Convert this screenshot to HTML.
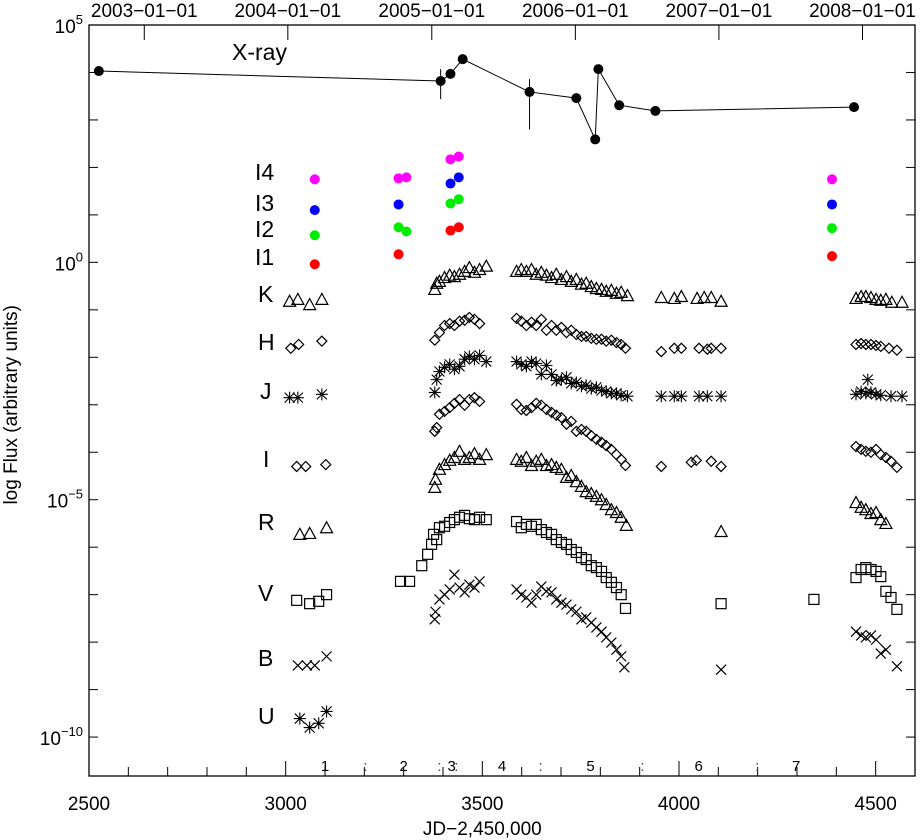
<!DOCTYPE html>
<html><head><meta charset="utf-8"><style>
html,body{margin:0;padding:0;background:#fff;}
svg{display:block;font-family:"Liberation Sans",sans-serif;}
</style></head><body>
<svg id="chart" width="922" height="840" viewBox="0 0 922 840" xmlns="http://www.w3.org/2000/svg">
<g id="axes"></g>
<g id="marks"></g>
<g id="labels"></g>
</svg>
<script>
// ---- data (JD-2450000, log10 flux) ----
const xrayJD   = [2525,3394,3419,3450,3620,3739,3787,3795,3848,3940,4445];
const xrayLog  = [4.03,3.82,3.97,4.28,3.59,3.46,2.59,4.07,3.31,3.19,3.27];
const xrayErrJD = [3394,3620];
const xrayErrLo = [3.44,2.80];
const xrayErrHi = [4.07,3.86];

const irJD  = [3074,3287,3307,3419,3440,4389];
const i4Log = [1.75,1.77,1.79,2.17,2.23,1.75];
const i3JD  = [3074,3287,3419,3440,4389];
const i3Log = [1.10,1.22,1.66,1.79,1.22];
const i2JD  = [3074,3287,3307,3419,3440,4389];
const i2Log = [0.57,0.74,0.65,1.24,1.33,0.72];
const i1JD  = [3074,3287,3419,3440,4389];
const i1Log = [-0.04,0.17,0.67,0.74,0.13];

const kJD  = [3010,3031,3061,3092,3379,3384,3391,3404,3417,3429,3442,3455,3467,3480,3493,3510,3587,3599,3612,3625,3637,3650,3663,3676,3688,3701,3714,3726,3739,3752,3764,3777,3790,3803,3815,3828,3841,3853,3869,3955,3988,4006,4046,4064,4082,4107,4450,4463,4475,4488,4501,4513,4526,4541,4567];
const kLog = [-0.82,-0.78,-0.89,-0.78,-0.57,-0.44,-0.40,-0.32,-0.27,-0.30,-0.25,-0.19,-0.11,-0.21,-0.15,-0.08,-0.19,-0.15,-0.19,-0.15,-0.25,-0.21,-0.27,-0.32,-0.25,-0.36,-0.30,-0.40,-0.36,-0.46,-0.44,-0.51,-0.55,-0.57,-0.61,-0.59,-0.65,-0.63,-0.70,-0.74,-0.76,-0.72,-0.76,-0.74,-0.74,-0.82,-0.76,-0.72,-0.72,-0.74,-0.78,-0.80,-0.78,-0.84,-0.84];

const hJD  = [3013,3033,3092,3379,3391,3404,3417,3429,3442,3455,3467,3480,3493,3587,3599,3612,3625,3637,3650,3663,3676,3688,3701,3714,3726,3739,3752,3764,3777,3790,3803,3815,3828,3841,3853,3864,3955,3988,4006,4051,4072,4082,4107,4450,4463,4475,4488,4501,4513,4534,4554];
const hLog = [-1.81,-1.73,-1.66,-1.64,-1.48,-1.33,-1.29,-1.33,-1.24,-1.22,-1.16,-1.20,-1.29,-1.18,-1.24,-1.33,-1.26,-1.33,-1.20,-1.43,-1.33,-1.43,-1.37,-1.48,-1.43,-1.52,-1.56,-1.56,-1.60,-1.62,-1.62,-1.66,-1.64,-1.69,-1.73,-1.81,-1.88,-1.81,-1.81,-1.81,-1.83,-1.81,-1.81,-1.73,-1.71,-1.73,-1.73,-1.75,-1.77,-1.81,-1.85];

const jJD  = [3010,3031,3092,3379,3384,3391,3404,3417,3429,3442,3455,3467,3480,3493,3510,3587,3599,3612,3625,3637,3650,3663,3676,3688,3701,3714,3726,3739,3752,3764,3777,3790,3803,3815,3828,3841,3853,3869,3955,3988,4006,4051,4072,4107,4450,4463,4475,4480,4488,4501,4513,4539,4567];
const jLog = [-2.85,-2.85,-2.78,-2.74,-2.47,-2.30,-2.21,-2.15,-2.25,-2.19,-2.04,-1.98,-2.04,-1.96,-2.09,-2.09,-2.15,-2.19,-2.09,-2.13,-2.36,-2.17,-2.36,-2.49,-2.47,-2.42,-2.55,-2.53,-2.61,-2.59,-2.66,-2.63,-2.70,-2.72,-2.76,-2.76,-2.80,-2.82,-2.82,-2.82,-2.82,-2.82,-2.82,-2.82,-2.78,-2.72,-2.76,-2.47,-2.74,-2.78,-2.80,-2.82,-2.82];

const iJD  = [3028,3051,3102,3379,3384,3391,3404,3417,3429,3442,3455,3467,3480,3493,3587,3599,3612,3625,3637,3650,3663,3676,3688,3701,3714,3726,3739,3752,3764,3777,3790,3803,3815,3828,3841,3853,3864,3955,4031,4044,4082,4107,4450,4463,4475,4488,4501,4513,4526,4539,4554];
const iLog = [-4.30,-4.30,-4.26,-3.56,-3.48,-3.20,-3.14,-3.06,-2.97,-2.89,-3.01,-2.89,-2.85,-2.93,-2.99,-3.10,-3.12,-3.06,-2.97,-3.01,-3.10,-3.16,-3.22,-3.27,-3.41,-3.35,-3.56,-3.52,-3.56,-3.65,-3.73,-3.79,-3.86,-3.94,-4.05,-4.15,-4.28,-4.30,-4.21,-4.17,-4.19,-4.30,-3.88,-3.94,-3.98,-4.00,-3.94,-4.05,-4.11,-4.19,-4.32];

const rJD  = [3036,3061,3104,3379,3381,3391,3404,3417,3429,3442,3455,3467,3480,3493,3510,3587,3599,3612,3625,3637,3650,3663,3676,3688,3701,3714,3726,3739,3752,3764,3777,3790,3803,3815,3828,3841,3853,3866,4107,4450,4463,4475,4488,4501,4513,4526];
const rLog = [-5.73,-5.71,-5.59,-4.74,-4.57,-4.36,-4.26,-4.17,-4.11,-3.98,-4.15,-4.11,-4.03,-4.15,-4.05,-4.15,-4.19,-4.11,-4.28,-4.19,-4.15,-4.28,-4.26,-4.32,-4.36,-4.53,-4.49,-4.62,-4.72,-4.83,-4.87,-4.93,-5.00,-5.10,-5.21,-5.27,-5.37,-5.54,-5.67,-5.06,-5.16,-5.21,-5.29,-5.27,-5.42,-5.50];

const vJD  = [3028,3061,3084,3104,3292,3315,3346,3361,3371,3376,3384,3391,3404,3417,3429,3442,3455,3467,3480,3493,3510,3587,3599,3612,3625,3637,3650,3663,3676,3688,3701,3714,3726,3739,3752,3764,3777,3790,3803,3815,3828,3841,3853,3864,4107,4343,4450,4463,4475,4488,4501,4513,4526,4539,4554];
const vLog = [-7.12,-7.19,-7.14,-7.00,-6.72,-6.72,-6.39,-6.15,-5.94,-5.73,-5.84,-5.59,-5.56,-5.48,-5.42,-5.37,-5.33,-5.40,-5.42,-5.37,-5.42,-5.46,-5.59,-5.52,-5.56,-5.52,-5.63,-5.69,-5.73,-5.84,-5.90,-5.94,-6.05,-6.11,-6.22,-6.26,-6.39,-6.43,-6.51,-6.64,-6.74,-6.85,-7.00,-7.29,-7.19,-7.10,-6.64,-6.47,-6.43,-6.47,-6.51,-6.62,-6.93,-7.06,-7.31];

const bJD  = [3031,3054,3074,3104,3379,3381,3391,3404,3417,3429,3442,3455,3467,3480,3493,3587,3599,3612,3625,3637,3650,3663,3676,3688,3701,3714,3726,3739,3752,3764,3777,3790,3803,3815,3828,3841,3853,3861,4107,4450,4463,4475,4488,4501,4513,4526,4554];
const bLog = [-8.49,-8.49,-8.49,-8.30,-7.52,-7.36,-7.10,-7.00,-6.89,-6.58,-6.85,-6.95,-6.79,-6.85,-6.72,-6.89,-7.00,-7.06,-7.17,-7.00,-6.83,-6.93,-6.95,-7.10,-7.17,-7.21,-7.31,-7.36,-7.52,-7.48,-7.59,-7.69,-7.78,-7.90,-8.01,-8.16,-8.30,-8.53,-8.58,-7.78,-7.86,-7.90,-7.86,-7.95,-8.24,-8.16,-8.51];

const uJD  = [3036,3061,3084,3104];
const uLog = [-9.61,-9.80,-9.71,-9.46];

const xTicks = [2500,3000,3500,4000,4500];
const yTickExp = [5,0,-5,-10];
const topDates = ["2003-01-01","2004-01-01","2005-01-01","2006-01-01","2007-01-01","2008-01-01"];
const topDateJD = [2640.5,3005.5,3371.5,3736.5,4101.5,4466.5];
const segLabels = ["1","2","3","4","5","6","7"];
const segJD = [3100,3300,3422,3550,3775,4050,4298];
const segSepJD = [3203,3391,3434,3648,3907,4199];

// ---- scales ----
const X0=89,X1=915,Y0=25,Y1=776;
const xMin=2500,xMax=4600,yMin=-10.82,yMax=5;
const sx=v=>X0+(v-xMin)/(xMax-xMin)*(X1-X0);
const sy=v=>Y1-(v-yMin)/(yMax-yMin)*(Y1-Y0);
const NS="http://www.w3.org/2000/svg";
function mk(tag,parent,attrs){const e=document.createElementNS(NS,tag);for(const k in attrs)e.setAttribute(k,attrs[k]);parent.appendChild(e);return e;}
const axes=document.getElementById('axes'),marks=document.getElementById('marks'),labels=document.getElementById('labels');

const fr=mk('rect',axes,{x:X0,y:Y0,width:X1-X0,height:Y1-Y0,fill:'none',stroke:'#000','stroke-width':1.3});



for(let v=2500;v<=4600;v+=100){
  const major=v%500===0;const x=sx(v);
  const t=mk('line',axes,{x1:x,x2:x,y1:Y1,y2:Y1-(major?15:9),stroke:'#000','stroke-width':1});
  
  
}
xTicks.forEach(v=>{
  const t=mk('text',axes,{x:sx(v),y:810,'font-size':19,'text-anchor':'middle'});t.textContent=v;
  
  
});
const xt=mk('text',axes,{x:sx(3500),y:835,'font-size':19,'text-anchor':'middle'});xt.textContent='JD\u22122,450,000';



topDateJD.forEach((v,i)=>{
  const x=sx(v);
  const t=mk('line',axes,{x1:x,x2:x,y1:Y0,y2:Y0+15,stroke:'#000','stroke-width':1});
  
  
  const l=mk('text',axes,{x:x,y:17,'font-size':19,'text-anchor':'middle'});l.textContent=topDates[i].replace(/-/g,'\u2212');
  
  
});

for(let e=-10;e<=5;e++){
  const y=sy(e);
  const a=mk('line',axes,{x1:X0,x2:X0+9,y1:y,y2:y,stroke:'#000','stroke-width':1});
  
  
  const b=mk('line',axes,{x1:X1-9,x2:X1,y1:y,y2:y,stroke:'#000','stroke-width':1});
  
  
}
yTickExp.forEach(e=>{
  const y=sy(e);
  const t=mk('text',axes,{x:X0-6,y:y+8,'font-size':19,'text-anchor':'end'});
  t.innerHTML='10<tspan dy="-9" font-size="13">'+e.toString().replace('-','\u2212')+'</tspan>';
  
  
});
const yt=mk('text',axes,{x:0,y:0,'font-size':19,'text-anchor':'middle',transform:'translate(17,'+sy(-3)+') rotate(-90)'});yt.textContent='log Flux (arbitrary units)';



segJD.forEach((v,i)=>{
  const t=mk('text',axes,{x:sx(v),y:771,'font-size':15,'text-anchor':'middle'});t.textContent=segLabels[i];
  
  
});
segSepJD.forEach(v=>{
  const t=mk('text',axes,{x:sx(v),y:771,'font-size':15,'text-anchor':'middle','fill':'#444'});t.textContent=':';
  
  
});

function marker(type,x,y){
  let e;const s=5;
  if(type==='tri') e=mk('polygon',marks,{points:`${x},${y-s-1} ${x-s-1},${y+s} ${x+s+1},${y+s}`,fill:'none',stroke:'#000','stroke-width':1.2});
  else if(type==='dia') e=mk('polygon',marks,{points:`${x},${y-s} ${x+s},${y} ${x},${y+s} ${x-s},${y}`,fill:'none',stroke:'#000','stroke-width':1.2});
  else if(type==='sq') e=mk('rect',marks,{x:x-s,y:y-s,width:2*s,height:2*s,fill:'none',stroke:'#000','stroke-width':1.2});
  else if(type==='x') e=mk('path',marks,{d:`M${x-s},${y-s}L${x+s},${y+s}M${x-s},${y+s}L${x+s},${y-s}`,stroke:'#000','stroke-width':1.2});
  else e=mk('path',marks,{d:`M${x-s},${y-s}L${x+s},${y+s}M${x-s},${y+s}L${x+s},${y-s}M${x},${y-s-1}L${x},${y+s+1}M${x-s-1},${y}L${x+s+1},${y}`,stroke:'#000','stroke-width':1.1});
  return e;
}
function series(jds,logs,type,name){
  jds.forEach((v,i)=>{
    const e=marker(type,sx(v),sy(logs[i]));
    
    
  });
}
series(kJD,kLog,'tri','k-band-point');
series(hJD,hLog,'dia','h-band-point');
series(jJD,jLog,'ast','j-band-point');
series(iJD,iLog,'dia','i-band-point');
series(rJD,rLog,'tri','r-band-point');
series(vJD,vLog,'sq','v-band-point');
series(bJD,bLog,'x','b-band-point');
series(uJD,uLog,'ast','u-band-point');

function dots(jds,logs,color,name){
  jds.forEach((v,i)=>{
    const c=mk('circle',marks,{cx:sx(v),cy:sy(logs[i]),r:5,fill:color});
    
    
  });
}
dots(irJD,i4Log,'#ff00ff','i4-point');
dots(i3JD,i3Log,'#0000ff','i3-point');
dots(irJD,i2Log,'#00ee00','i2-point');
dots(i1JD,i1Log,'#ff0000','i1-point');

const pl=mk('polyline',marks,{points:xrayJD.map((v,i)=>sx(v)+','+sy(xrayLog[i])).join(' '),fill:'none',stroke:'#000','stroke-width':1});


xrayErrJD.forEach((v,i)=>{
  const l=mk('line',marks,{x1:sx(v),x2:sx(v),y1:sy(xrayErrLo[i]),y2:sy(xrayErrHi[i]),stroke:'#000','stroke-width':1});
  
  
});
dots(xrayJD,xrayLog,'#000','xray-point');

const bandNames=["X-ray","I4","I3","I2","I1","K","H","J","I","R","V","B","U"];
const bandLabelX=[232,255,255,255,255,258,258,260,263,258,258,258,258];
const bandLabelY=[60,180,211,237,265,302,350,399,467,530,601,666,724];
bandNames.forEach((n,i)=>{
  const t=mk('text',labels,{x:bandLabelX[i],y:bandLabelY[i],'font-size':23});t.textContent=n;
  
  
});
</script>
</body></html>
